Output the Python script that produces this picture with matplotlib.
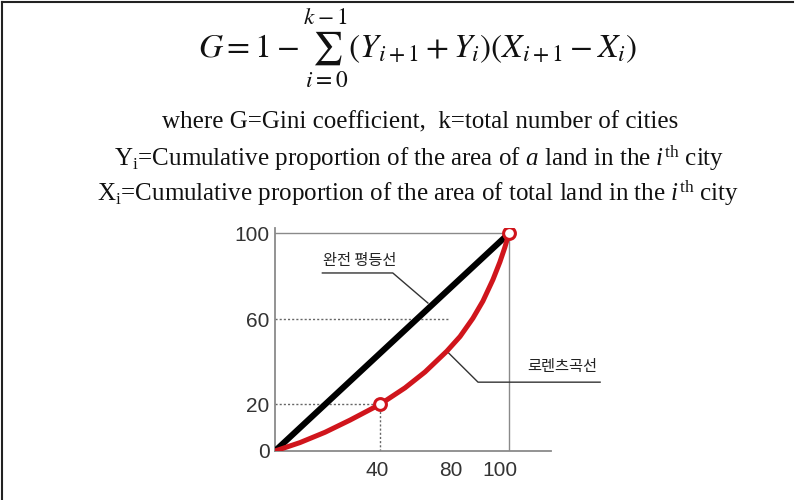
import numpy as np
import matplotlib.pyplot as plt
from matplotlib.lines import Line2D
from matplotlib.transforms import ScaledTranslation

plt.rcParams['font.family'] = ['Liberation Serif', 'DejaVu Serif']
plt.rcParams['mathtext.fontset'] = 'custom'
plt.rcParams['mathtext.rm'] = 'Liberation Serif'
plt.rcParams['mathtext.it'] = 'Liberation Serif:italic'

# Lorenz curve (cumulative %)
lorenz_x = [0, 9.5, 19.0, 28.5, 40, 52.8, 63.2, 74.5, 81.0, 86.0, 89.9, 93.8, 96.5, 98.4, 100]
lorenz_y = [0, 3.6, 8.0, 13.2, 20, 27.7, 35.2, 45.0, 51.9, 60.5, 68.5, 78.5, 86.7, 93.4, 100]
# line of perfect equality
equality_x = [0, 100]
equality_y = [0, 100]
# circled points on the curve
marked_x = [40, 100]
marked_y = [20, 100]

x_ticks = [40, 80, 100]
x_labels = ['40', '80', '100']
y_ticks = [0, 20, 60, 100]
y_labels = ['0', '20', '60', '100']

label_equality = '완전 평등선'
label_lorenz = '로렌츠곡선'

formula = r'$G = 1 - \sum_{i=0}^{k-1}(Y_{i+1} + Y_i)(X_{i+1} - X_i)$'
line1 = 'where G=Gini coefficient,  k=total number of cities'
line2 = r'Y$_\mathrm{i}$=Cumulative proportion of the area of $\mathit{a}$ land in the $\mathit{i}^\mathrm{th}$ city'
line3 = r'X$_\mathrm{i}$=Cumulative proportion of the area of total land in the $\mathit{i}^\mathrm{th}$ city'

# the sketch is not drawn to scale: where each value sits along the axis
x_known, x_drawn = [-1000, 0, 40, 80, 100, 1000], [-1000, 0, 45, 78, 100, 1000]
y_known, y_drawn = [-1000, 0, 20, 60, 100, 1000], [-1000, 0, 21.5, 60.5, 100, 1000]


def x_fwd(v):
    return np.interp(v, x_known, x_drawn)


def x_inv(v):
    return np.interp(v, x_drawn, x_known)


def y_fwd(v):
    return np.interp(v, y_known, y_drawn)


def y_inv(v):
    return np.interp(v, y_drawn, y_known)


fig = plt.figure(figsize=(8.01, 5.0), dpi=100)

# frame around the picture (left and top edges only)
fig.add_artist(Line2D([0.003, 0.003], [0, 0.996], transform=fig.transFigure, color='#222222', lw=1.5))
fig.add_artist(Line2D([0.003, 0.99], [0.996, 0.996], transform=fig.transFigure, color='#222222', lw=1.5))

# header text
fig.text(418 / 801, 1 - 48 / 500, formula, ha='center', va='center', fontsize=24,
         math_fontfamily='stix', color='#111111')
fig.text(420 / 801, 1 - 122 / 500, line1, ha='center', va='center', fontsize=18, color='#111111')
fig.text(419 / 801, 1 - 158 / 500, line2, ha='center', va='center', fontsize=18, color='#111111')
fig.text(418 / 801, 1 - 193 / 500, line3, ha='center', va='center', fontsize=18, color='#111111')

ax = fig.add_axes([275 / 801, 49 / 500, 276 / 801, 223 / 500])
ax.set_xscale('function', functions=(x_fwd, x_inv))
ax.set_yscale('function', functions=(y_fwd, y_inv))
ax.set_xlim(0, 118)
ax.set_ylim(0, 102.5)

axis_grey = '#8a8a8a'
for side in ['top', 'right']:
    ax.spines[side].set_visible(False)
for side in ['left', 'bottom']:
    ax.spines[side].set_color(axis_grey)
    ax.spines[side].set_linewidth(1.3)

# box at 100 / 100
ax.plot([0, 100, 100], [100, 100, 0], color=axis_grey, lw=1.0, zorder=1)

# dotted guides
dots = dict(color='#666666', lw=1.0, ls=(0, (1.5, 1.5)), zorder=1)
ax.plot([0, 76], [60, 60], **dots)
ax.plot([0, marked_x[0]], [marked_y[0], marked_y[0]], **dots)
ax.plot([marked_x[0], marked_x[0]], [0, marked_y[0]], **dots)

ax.plot(equality_x, equality_y, color='black', lw=4.4, solid_capstyle='round', zorder=3)
ax.plot(lorenz_x, lorenz_y, color='#d0151c', lw=3.6, solid_capstyle='round',
        solid_joinstyle='round', zorder=4)
ax.plot(marked_x, marked_y, ls='none', marker='o', ms=8.5, mfc='white', mec='#d0151c',
        mew=2.2, zorder=5)

# labels with leader lines
ax.plot([18, 46.5, 64.7], [81.6, 81.6, 67.6], color='#333333', lw=1.0, zorder=2, clip_on=False)
ax.text(32, 87.5, label_equality, ha='center', va='center', fontsize=11,
        family=['Noto Sans CJK KR'], weight='medium', color='#222222')
ax.plot([74.5, 88, 139], [45.0, 30.4, 30.4], color='#333333', lw=1.0, zorder=2, clip_on=False)
ax.text(123, 37.7, label_lorenz, ha='center', va='center', fontsize=11,
        family=['Noto Sans CJK KR'], weight='medium', color='#222222', clip_on=False)

tick_font = ['Liberation Sans Narrow', 'Liberation Sans']
ax.set_xticks(x_ticks)
ax.set_xticklabels(x_labels, fontsize=15, family=tick_font, color='#333333')
ax.set_yticks(y_ticks)
ax.set_yticklabels(y_labels, fontsize=15, family=tick_font, color='#333333')
ax.tick_params(axis='x', length=0, pad=7)
ax.tick_params(axis='y', length=0, pad=4)
ax.minorticks_off()

# the drawing sets the x labels a little left of their marks
for lab, dx in zip(ax.get_xticklabels(), [-3, -7, -9]):
    lab.set_transform(lab.get_transform() + ScaledTranslation(dx / 100, 0, fig.dpi_scale_trans))

fig.savefig('out.png', dpi=100)
